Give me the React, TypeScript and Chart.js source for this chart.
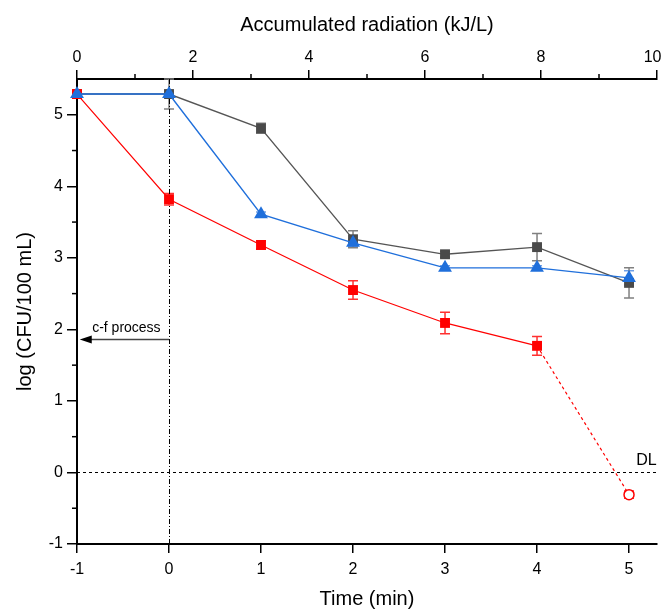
import React, { useEffect, useRef } from 'react';
import { Chart, registerables } from 'chart.js';
Chart.register(...registerables);

// ---- data ----
const timeMin = [-1, 0, 1, 2, 3, 4, 5];
const grayVals = [5.29, 5.29, 4.81, 3.26, 3.05, 3.15, 2.65];
const grayErr = [0, 0.21, 0.07, 0.12, 0.04, 0.19, 0.21];
const blueVals = [5.29, 5.29, 3.61, 3.21, 2.86, 2.86, 2.72];
const blueErr = [0, 0.04, 0.03, 0.05, 0.03, 0.03, 0.1];
const redVals = [5.29, 3.82, 3.18, 2.55, 2.09, 1.77, -0.31];
const redErr = [0, 0.08, 0.06, 0.13, 0.15, 0.13, 0.05];

const bottomTicks = [-1, 0, 1, 2, 3, 4, 5];
const topTicks = [0, 2, 4, 6, 8, 10];
const topMinorTicks = [1, 3, 5, 7, 9];
const leftTicks = [-1, 0, 1, 2, 3, 4, 5];
const leftMinorTicks = [-0.5, 0.5, 1.5, 2.5, 3.5, 4.5];

const xMin = -1;
const xMax = 5.304;
const yMin = -1;
const yMax = 5.5;
const topMin = 0;
const topMax = 10;

const dlValue = 0;
const dlLabel = 'DL';
const cfTime = 0;
const arrowY = 1.86;
const arrowEndTime = -0.97;
const cfLabel = 'c-f process';

const FONT = '"Liberation Sans", Arial, sans-serif';

const errorBarPlugin = {
  id: 'errorBars',
  beforeDatasetsDraw(chart: any) {
    const ctx = chart.ctx;
    const xs = chart.scales.x;
    const ys = chart.scales.y;
    chart.data.datasets.forEach((ds: any) => {
      const errs = ds.errors as number[];
      if (!errs) return;
      ctx.save();
      ctx.strokeStyle = ds.errorColor;
      ctx.lineWidth = 1.5;
      ds.data.forEach((p: any, i: number) => {
        const e = errs[i];
        if (!e) return;
        const px = xs.getPixelForValue(p.x);
        const y1 = ys.getPixelForValue(p.y + e);
        const y2 = ys.getPixelForValue(p.y - e);
        ctx.beginPath();
        ctx.moveTo(px, y1);
        ctx.lineTo(px, y2);
        ctx.moveTo(px - 5, y1);
        ctx.lineTo(px + 5, y1);
        ctx.moveTo(px - 5, y2);
        ctx.lineTo(px + 5, y2);
        ctx.stroke();
      });
      ctx.restore();
    });
  },
};

const annotationPlugin = {
  id: 'annots',
  beforeDatasetsDraw(chart: any) {
    const ctx = chart.ctx;
    const xs = chart.scales.x;
    const ys = chart.scales.y;
    const a = chart.chartArea;
    ctx.save();
    // vertical dash-dot line
    const vx = Math.round(xs.getPixelForValue(cfTime)) + 0.5;
    ctx.strokeStyle = '#000';
    ctx.lineWidth = 1;
    ctx.setLineDash([5, 2, 1, 2]);
    ctx.beginPath();
    ctx.moveTo(vx, a.top);
    ctx.lineTo(vx, a.bottom);
    ctx.stroke();
    // DL dashed line
    const dy = Math.round(ys.getPixelForValue(dlValue)) + 0.5;
    ctx.setLineDash([3, 3]);
    ctx.beginPath();
    ctx.moveTo(a.left, dy);
    ctx.lineTo(a.right, dy);
    ctx.stroke();
    ctx.setLineDash([]);
    ctx.fillStyle = '#000';
    ctx.font = '16px ' + FONT;
    ctx.textAlign = 'center';
    ctx.textBaseline = 'alphabetic';
    ctx.fillText(dlLabel, xs.getPixelForValue(5.19), dy - 8);
    // arrow
    const ay = Math.round(ys.getPixelForValue(arrowY)) + 0.5;
    const ax1 = xs.getPixelForValue(cfTime);
    const ax2 = xs.getPixelForValue(arrowEndTime);
    ctx.strokeStyle = '#444';
    ctx.lineWidth = 1.5;
    ctx.beginPath();
    ctx.moveTo(ax1, ay);
    ctx.lineTo(ax2 + 10, ay);
    ctx.stroke();
    ctx.fillStyle = '#000';
    ctx.beginPath();
    ctx.moveTo(ax2, ay);
    ctx.lineTo(ax2 + 12, ay - 4);
    ctx.lineTo(ax2 + 12, ay + 4);
    ctx.closePath();
    ctx.fill();
    ctx.font = '14px ' + FONT;
    ctx.textAlign = 'center';
    ctx.fillText(cfLabel, (ax1 + ax2) / 2 + 2, ay - 8);
    ctx.restore();
  },
  afterDraw(chart: any) {
    const ctx = chart.ctx;
    const ys = chart.scales.y;
    const x2 = chart.scales.x2;
    const a = chart.chartArea;
    ctx.save();
    ctx.strokeStyle = '#000';
    ctx.lineWidth = 1.5;
    leftMinorTicks.forEach((v) => {
      const py = ys.getPixelForValue(v);
      ctx.beginPath();
      ctx.moveTo(a.left - 5, py);
      ctx.lineTo(a.left, py);
      ctx.stroke();
    });
    topMinorTicks.forEach((v) => {
      const px = x2.getPixelForValue(v);
      ctx.beginPath();
      ctx.moveTo(px, a.top - 5);
      ctx.lineTo(px, a.top);
      ctx.stroke();
    });
    ctx.restore();
  },
};

function App() {
  const ref = useRef<HTMLCanvasElement>(null);
  useEffect(() => {
    document.body.style.margin = '0';
    const canvas = ref.current!;
    const mk = (vals: number[]) => timeMin.map((t, i) => ({ x: t, y: vals[i] }));
    const tickFont = { size: 16, family: FONT };
    const titleFont = { size: 20, family: FONT };
    const chart = new Chart(canvas, {
      type: 'line',
      data: {
        datasets: [
          {
            label: 'blue',
            data: mk(blueVals),
            borderColor: '#1f6fdb',
            backgroundColor: '#1f6fdb',
            borderWidth: 1.4,
            pointStyle: 'triangle',
            pointRadius: 8,
            pointBorderWidth: 0,
            clip: false,
            errors: blueErr,
            errorColor: '#6f9fe6',
          } as any,
          {
            label: 'red',
            data: mk(redVals),
            borderColor: '#ff0000',
            backgroundColor: redVals.map((_, i) => (i === redVals.length - 1 ? '#ffffff' : '#ff0000')),
            pointBorderColor: '#ff0000',
            borderWidth: 1.2,
            pointStyle: redVals.map((_, i) => (i === redVals.length - 1 ? 'circle' : 'rect')),
            pointRadius: redVals.map((_, i) => (i === redVals.length - 1 ? 5 : 7)),
            pointBorderWidth: redVals.map((_, i) => (i === redVals.length - 1 ? 1.5 : 0)),
            segment: {
              borderDash: (c: any) => (c.p1DataIndex === redVals.length - 1 ? [3, 3] : undefined),
            },
            clip: false,
            errors: redErr,
            errorColor: '#ff3030',
          } as any,
          {
            label: 'gray',
            data: mk(grayVals),
            borderColor: '#555555',
            backgroundColor: '#4a4a4a',
            borderWidth: 1.3,
            pointStyle: 'rect',
            pointRadius: 7,
            pointBorderWidth: 0,
            clip: false,
            errors: grayErr,
            errorColor: '#808080',
          } as any,
        ],
      },
      options: {
        responsive: false,
        animation: false,
        plugins: { legend: { display: false }, tooltip: { enabled: false } },
        layout: { padding: { right: 0 } },
        scales: {
          x: {
            type: 'linear',
            position: 'bottom',
            min: xMin,
            max: xMax,
            afterBuildTicks: (s: any) => {
              s.ticks = bottomTicks.map((v) => ({ value: v }));
            },
            afterFit: (s: any) => {
              s.height = 65;
              s.paddingRight = 8;
            },
            grid: { drawOnChartArea: false, tickLength: 9, color: '#000', lineWidth: 1.5 },
            border: { display: true, color: '#000', width: 2 },
            ticks: { color: '#000', font: tickFont, padding: 7, maxRotation: 0 },
            title: { display: true, text: 'Time (min)', color: '#000', font: titleFont, padding: { top: 2, bottom: -2 } },
          },
          x2: {
            type: 'linear',
            position: 'top',
            min: topMin,
            max: topMax,
            afterBuildTicks: (s: any) => {
              s.ticks = topTicks.map((v) => ({ value: v }));
            },
            afterFit: (s: any) => {
              s.height = 79;
              s.paddingRight = 8;
            },
            grid: { drawOnChartArea: false, tickLength: 9, color: '#000', lineWidth: 1.5 },
            border: { display: true, color: '#000', width: 2 },
            ticks: {
              color: '#000',
              font: tickFont,
              padding: 3,
              maxRotation: 0,
              callback: (v: any) => (v === topMax ? String(v) + '  ' : String(v)),
            },
            title: { display: true, text: 'Accumulated radiation (kJ/L)', color: '#000', font: titleFont, padding: { top: 13, bottom: 2 } },
          },
          y: {
            type: 'linear',
            min: yMin,
            max: yMax,
            afterBuildTicks: (s: any) => {
              s.ticks = leftTicks.map((v) => ({ value: v }));
            },
            afterFit: (s: any) => {
              s.width = 77;
            },
            grid: { drawOnChartArea: false, tickLength: 10, color: '#000', lineWidth: 1.5 },
            border: { display: true, color: '#000', width: 2 },
            ticks: { color: '#000', font: tickFont, padding: 4 },
            title: { display: true, text: 'log (CFU/100 mL)', color: '#000', font: titleFont, padding: { top: 13, bottom: 2 } },
          },
        },
      } as any,
      plugins: [errorBarPlugin, annotationPlugin],
    });
    return () => chart.destroy();
  }, []);
  return (
    <div style={{ width: 665, height: 609 }}>
      <canvas ref={ref} width={665} height={609} />
    </div>
  );
}

export default App;
